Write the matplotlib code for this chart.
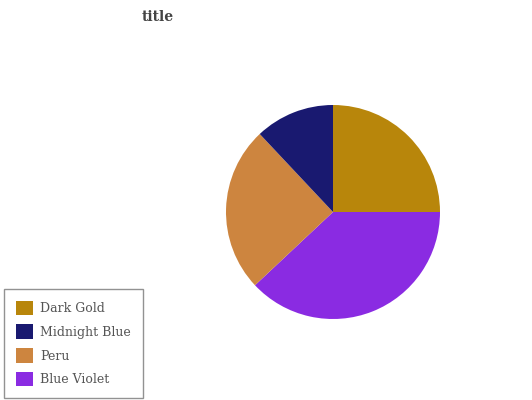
import matplotlib.pyplot as plt
from matplotlib.patches import Patch

# slice data, drawn clockwise from 12 o'clock
labels = ['Dark Gold', 'Blue Violet', 'Peru', 'Midnight Blue']
values = [25, 38, 25, 12]
colors = ['#B8860B', '#8A2BE2', '#CD853F', '#191970']
legend_order = ['Dark Gold', 'Midnight Blue', 'Peru', 'Blue Violet']

plt.rcParams['font.family'] = 'DejaVu Serif'

fig = plt.figure(figsize=(5.32, 4.0), dpi=100)
# pie centre ~ (333, 212), radius ~107 px
ax = fig.add_axes([(333 - 107) / 532, (400 - 212 - 107) / 400, 214 / 532, 214 / 400])
ax.pie(values, colors=colors, startangle=90, counterclock=False,
       wedgeprops=dict(linewidth=0))
ax.set_aspect('equal')
ax.set_xlim(-1, 1)
ax.set_ylim(-1, 1)
ax.axis('off')

fig.text(158 / 532, 1 - 17 / 400, 'title', ha='center', va='center',
         fontsize=10, fontweight='bold', color='#444444')

col = dict(zip(labels, colors))
handles = [Patch(facecolor=col[n], edgecolor='none', label=n) for n in legend_order]
leg = fig.legend(handles=handles, loc='lower left', bbox_to_anchor=(0.0, -0.005),
                 frameon=True, fancybox=False, fontsize=9, labelcolor='#555555',
                 handlelength=1.4, handleheight=1.4, borderpad=0.95, labelspacing=0.75,
                 handletextpad=0.55, borderaxespad=0.3)
leg.get_frame().set_edgecolor('#777777')
leg.get_frame().set_linewidth(1.0)

fig.savefig('out.png', dpi=100)
